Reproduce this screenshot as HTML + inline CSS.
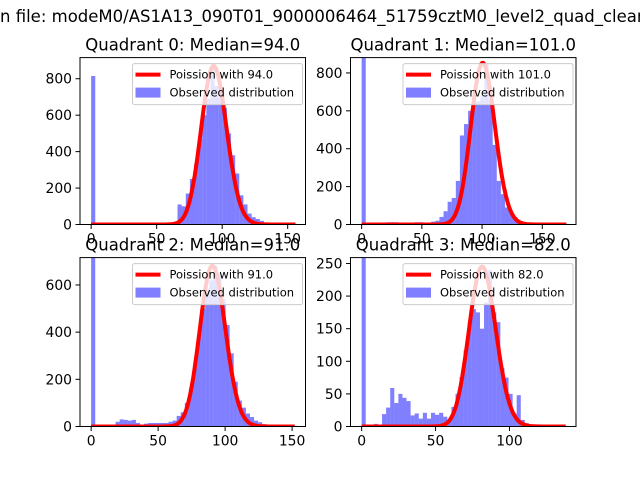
<!DOCTYPE html>
<html><head><meta charset="utf-8"><style>
body{margin:0;background:#fff}
svg{display:block;font-family:"DejaVu Sans","Liberation Sans",sans-serif}
</style></head><body>
<svg id="fig" width="640" height="480" viewBox="0 0 640 480">
<rect width="640" height="480" fill="#fff"/>
<text x="0" y="22" font-size="16.5">n file: modeM0/AS1A13_090T01_9000006464_51759cztM0_level2_quad_clean</text>
</svg>
<script>
// Quadrant data
const medians = [94.0, 101.0, 91.0, 82.0];
const binWidths = [3.14, 3.4, 3.04, 2.76];
const curvePeaks = [870, 853, 681, 245];
const curveMax = [156, 170, 152, 138];
const yMaxes = [916, 881, 716, 259];
const xMaxes = [163.6, 178, 160, 145];
const counts0 = [815,0,0,0,0,0,0,0,0,0,0,0,0,0,0,0,0,0,4,6,8,110,100,170,250,330,470,600,690,865,760,700,640,500,380,280,160,110,60,40,30,20,8,5,2,2,2,2,2,2];
const counts1 = [1000,0,0,0,0,3,12,12,12,8,8,8,8,12,12,10,10,15,20,40,70,120,140,230,470,530,600,680,650,680,850,660,420,230,160,90,60,40,20,10,5,0,0,0,0,0,0,0,0,0];
const counts2 = [800,0,0,0,0,5,20,30,28,25,28,15,5,12,15,15,15,15,15,20,25,45,60,100,160,260,390,500,580,620,680,650,540,430,310,190,110,80,55,40,25,18,10,3,0,0,0,0,0,1];
const counts3 = [262,0,0,4,0,19,29,59,36,50,44,39,17,20,12,21,12,21,18,21,15,10,30,50,76,117,160,180,175,150,190,240,175,160,90,75,50,20,48,10,5,2,0,0,0,0,0,0,0,0];
const xTicks = [0,50,100,150];
const yTicks0 = [0,200,400,600,800];
const yTicks1 = [0,200,400,600,800];
const yTicks2 = [0,200,400,600];
const yTicks3 = [0,50,100,150,200,250];

const allCounts=[counts0,counts1,counts2,counts3];
const allYTicks=[yTicks0,yTicks1,yTicks2,yTicks3];
const NS="http://www.w3.org/2000/svg";
const svg=document.getElementById('fig');
function mk(tag,attrs,parent){const e=document.createElementNS(NS,tag);for(const k in attrs)e.setAttribute(k,attrs[k]);(parent||svg).appendChild(e);return e;}
function lgamma(n){let s=0;for(let i=2;i<=n;i++)s+=Math.log(i);return s;}
const boxes=[[80,57.6,305.5,224.5],[350.5,57.6,576,224.5],[80,257.6,305.5,426.5],[350.5,257.6,576,426.5]];
for(let q=0;q<4;q++){
  const [L,T,R,B]=boxes[q];
  const xmin=-xMaxes[q]*0.052;
  const X=v=>L+(v-xmin)/(xMaxes[q]-xmin)*(R-L);
  const Y=v=>B-v/yMaxes[q]*(B-T);
  const g=mk('g',{});
  
  
  const cid='clip'+q;
  const cp=mk('clipPath',{id:cid},g);mk('rect',{x:L,y:T,width:R-L,height:B-T},cp);
  const plot=mk('g',{'clip-path':'url(#'+cid+')'},g);
  // bars
  const c=allCounts[q],w=binWidths[q];
  for(let k=0;k<c.length;k++){
    if(c[k]<=0)continue;
    const x0=X(k*w),x1=X((k+1)*w);
    const r=mk('rect',{x:x0,y:Y(c[k]),width:x1-x0,height:B-Y(c[k]),fill:'#0000ff','fill-opacity':0.5},plot);
    
    
  }
  // poisson curve
  const lam=medians[q];
  const lp=lam*Math.log(lam)-lam-lgamma(Math.round(lam));
  let pts=[];
  for(let x=0;x<=curveMax[q];x++){
    const lv=x*Math.log(lam)-lam-lgamma(x);
    pts.push(X(x).toFixed(1)+','+Y(curvePeaks[q]*Math.exp(lv-lp)).toFixed(1));
  }
  const line=mk('polyline',{points:pts.join(' '),fill:'none',stroke:'#ff0000','stroke-width':4,'stroke-linejoin':'round'},plot);
  
  
  // axes frame
  mk('rect',{x:L,y:T,width:R-L,height:B-T,fill:'none',stroke:'#000','stroke-width':1}, g);
  for(const t of xTicks){
    const x=X(t);if(x<L-0.5||x>R+0.5)continue;
    mk('line',{x1:x,x2:x,y1:B,y2:B+4.5,stroke:'#000','stroke-width':1},g);
    const tx=mk('text',{x:x,y:B+19,'font-size':13.9,'text-anchor':'middle'},g);tx.textContent=t;
    
    
  }
  for(const t of allYTicks[q]){
    const y=Y(t);
    mk('line',{x1:L-4.5,x2:L,y1:y,y2:y,stroke:'#000','stroke-width':1},g);
    const tx=mk('text',{x:L-8,y:y+5,'font-size':13.9,'text-anchor':'end'},g);tx.textContent=t;
    
    
  }
  const ti=mk('text',{x:(L+R)/2,y:T-7,'font-size':16.5,'text-anchor':'middle'},g);
  ti.textContent='Quadrant '+q+': Median='+lam.toFixed(1);
  
  
  // legend
  const lg=mk('g',{},g);
  
  
  const lx=R-173,ly=T+6;
  mk('rect',{x:lx,y:ly,width:170,height:41,rx:2,fill:'#fff','fill-opacity':0.8,stroke:'#ccc','stroke-width':1},lg);
  mk('line',{x1:lx+3,x2:lx+28,y1:ly+11,y2:ly+11,stroke:'#ff0000','stroke-width':4},lg);
  const t1=mk('text',{x:lx+37,y:ly+15,'font-size':11.5},lg);t1.textContent='Poission with '+lam.toFixed(1);
  mk('rect',{x:lx+3,y:ly+24,width:25,height:10,fill:'#0000ff','fill-opacity':0.5},lg);
  const t2=mk('text',{x:lx+37,y:ly+33,'font-size':11.5},lg);t2.textContent='Observed distribution';
}
</script>
</body></html>
